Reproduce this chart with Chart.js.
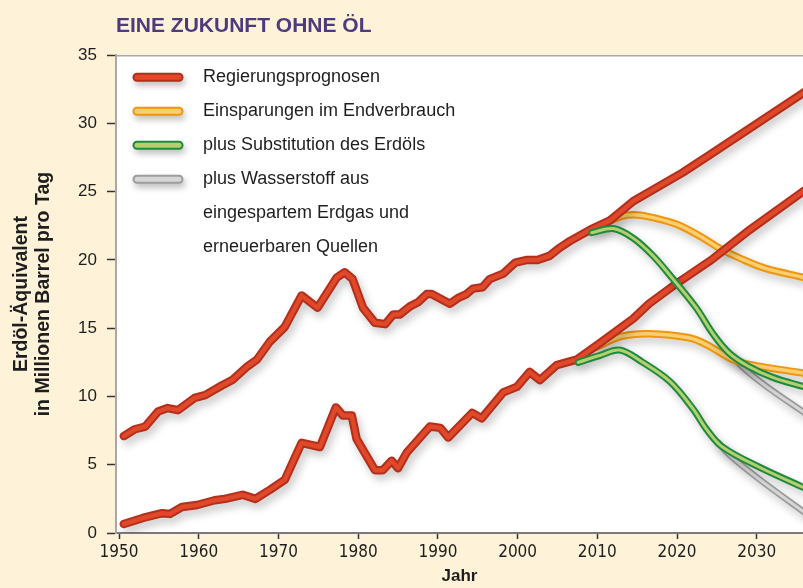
<!DOCTYPE html>
<html><head><meta charset="utf-8">
<script src="https://cdn.jsdelivr.net/npm/chart.js@4.4.1/dist/chart.umd.min.js"></script>
<style>html,body{margin:0;padding:0;background:#FEF3D9;}canvas{display:block;}</style>
</head><body>
<canvas id="c" width="803" height="588"></canvas>
<script>
const chartTitle = 'EINE ZUKUNFT OHNE ÖL';
const yAxisTitle = ['Erdöl-Äquivalent', 'in Millionen Barrel pro Tag'];
const xAxisTitle = 'Jahr';
const xTickYears = [1950, 1960, 1970, 1980, 1990, 2000, 2010, 2020, 2030];
const legendLabels = ['Regierungsprognosen', 'Einsparungen im Endverbrauch', 'plus Substitution des Erdöls',
  ['plus Wasserstoff aus', 'eingespartem Erdgas und', 'erneuerbaren Quellen']];

// Regierungsprognosen – obere Kurve
const regUpperYears = [1950.6,1952.0,1953.3,1954.9,1956.1,1957.4,1959.5,1960.8,1962.9,1964.2,1966.1,1967.3,1968.9,1970.8,1972.9,1974.9,1977.3,1978.3,1979.3,1980.6,1982.1,1983.4,1984.4,1985.2,1986.5,1987.5,1988.6,1989.2,1991.5,1992.5,1993.6,1994.4,1995.6,1996.5,1998.2,1999.7,2001.2,2002.5,2004.0,2005.3,2006.6,2009.4,2011.6,2014.5,2020.7,2024.1,2036];
const regUpperValues = [7.1,7.6,7.8,8.9,9.15,9.0,9.9,10.1,10.8,11.2,12.2,12.7,14.0,15.1,17.4,16.5,18.7,19.1,18.6,16.5,15.4,15.3,16.0,16.0,16.6,16.9,17.5,17.5,16.8,17.2,17.5,17.9,18.0,18.6,19.0,19.8,20.0,20.0,20.3,20.9,21.4,22.3,22.9,24.3,26.4,27.7,32.3];
// Regierungsprognosen – untere Kurve
const regLowerYears = [1950.6,1953.0,1955.4,1956.4,1957.9,1959.8,1962.0,1963.3,1965.5,1967.1,1968.9,1970.8,1972.9,1975.2,1977.2,1978.1,1979.2,1979.8,1981.1,1982.1,1983.1,1984.2,1985.0,1986.1,1989.0,1990.3,1991.3,1994.3,1995.5,1998.2,1999.9,2001.5,2002.8,2004.9,2007.4,2010.3,2014.5,2016.5,2020.0,2024.3,2029.1,2036];
const regLowerValues = [0.66,1.1,1.45,1.4,1.9,2.05,2.4,2.5,2.8,2.5,3.15,3.9,6.6,6.3,9.2,8.6,8.6,6.9,5.6,4.6,4.6,5.3,4.75,5.9,7.8,7.7,7.0,8.8,8.4,10.3,10.7,11.8,11.2,12.3,12.7,13.9,15.7,16.8,18.3,20.0,22.2,25.1];
// Einsparungen im Endverbrauch
const saveUpperYears = [2010.3,2013,2015,2017,2020,2023,2025.5,2028,2031,2036];
const saveUpperValues = [22.5,23.2,23.3,23.1,22.6,21.7,20.8,20.1,19.4,18.7];
const saveLowerYears = [2009.8,2013,2016.5,2021.5,2023.7,2027,2029.5,2036];
const saveLowerValues = [13.6,14.4,14.6,14.3,13.8,12.7,12.3,11.7];
// plus Substitution des Erdöls
const subUpperYears = [2009.3,2012,2014.5,2017,2019.5,2022.4,2024.5,2026.5,2029,2032,2036];
const subUpperValues = [22.0,22.3,21.6,20.3,18.6,16.5,14.6,13.2,12.2,11.4,10.7];
const subLowerYears = [2007.6,2010.3,2012.8,2015.7,2019.1,2022,2023.7,2025.7,2030.4,2036];
const subLowerValues = [12.5,13.0,13.4,12.5,11.1,9.1,7.6,6.3,4.8,3.3];
// plus Wasserstoff
const h2UpperYears = [2026,2028.5,2031.3,2036];
const h2UpperValues = [13.5,12.0,10.7,8.8];
const h2LowerYears = [2025.2,2026.6,2030.4,2036];
const h2LowerValues = [6.6,5.7,3.9,1.5];

const styles = [
  {outer:'#B32E1B', inner:'#E0482A', wOut:8.5, wIn:4.5},
  {outer:'#EE9610', inner:'#FBCE70', wOut:7.5, wIn:3.5},
  {outer:'#1E8A40', inner:'#B4D06E', wOut:7, wIn:3},
  {outer:'#9C9C9C', inner:'#D6D6D6', wOut:6.5, wIn:3}
];

function pts(xs, ys){ return xs.map((x,i)=>({x:x, y:ys[i]})); }

// bottom-to-top drawing list: [series index, years, values, smooth]
const lines = [
  [3, h2UpperYears, h2UpperValues, true],
  [3, h2LowerYears, h2LowerValues, true],
  [1, saveUpperYears, saveUpperValues, true],
  [1, saveLowerYears, saveLowerValues, true],
  [0, regUpperYears, regUpperValues, false],
  [0, regLowerYears, regLowerValues, false],
  [2, subUpperYears, subUpperValues, true],
  [2, subLowerYears, subLowerValues, true]
];
const datasets = [];
lines.forEach(([s, xs, ys, smooth]) => {
  const st = styles[s];
  ['outer','inner'].forEach(kind => {
    datasets.push({
      data: pts(xs, ys), isOuter: kind==='outer',
      borderColor: st[kind], borderWidth: kind==='outer'?st.wOut:st.wIn,
      pointRadius: 0, fill: false, borderCapStyle:'round', borderJoinStyle:'round',
      tension: smooth ? 0.35 : 0
    });
  });
});
const N = datasets.length;
datasets.forEach((d,i)=>{ d.order = N - i; });

const areaPlugin = {
  id:'area',
  beforeDraw(chart){
    const {ctx, chartArea:a} = chart;
    ctx.save();
    ctx.fillStyle = '#FFFFFF';
    ctx.fillRect(a.left, a.top, a.right-a.left, a.bottom-a.top);
    ctx.strokeStyle = '#A8A8A8'; ctx.lineWidth = 1.5;
    ctx.beginPath(); ctx.moveTo(a.left, a.top+0.5); ctx.lineTo(a.right, a.top+0.5); ctx.stroke();
    ctx.restore();
  }
};
const shadowPlugin = {
  id:'lineShadow',
  beforeDatasetDraw(chart, args){
    const ctx = chart.ctx; ctx.save();
    if (chart.data.datasets[args.index].isOuter){
      ctx.shadowColor='rgba(0,0,0,0.22)'; ctx.shadowBlur=8; ctx.shadowOffsetX=3; ctx.shadowOffsetY=5;
    }
  },
  afterDatasetDraw(chart){ chart.ctx.restore(); }
};
const legendPlugin = {
  id:'boxLegend',
  afterDatasetsDraw(chart){
    const {ctx, chartArea:a} = chart;
    ctx.save();
    ctx.font = '18px "Liberation Sans", Arial, sans-serif';
    ctx.textBaseline = 'middle'; ctx.fillStyle = '#1E1E1E';
    let row = 0;
    legendLabels.forEach((lab, i) => {
      const st = styles[i];
      const y = a.top + 22 + row*34;
      const x0 = a.left + 21, x1 = a.left + 63;
      ctx.save();
      ctx.lineCap = 'round';
      ctx.shadowColor='rgba(0,0,0,0.25)'; ctx.shadowBlur=6; ctx.shadowOffsetX=2; ctx.shadowOffsetY=4;
      ctx.strokeStyle = st.outer; ctx.lineWidth = 9;
      ctx.beginPath(); ctx.moveTo(x0,y); ctx.lineTo(x1,y); ctx.stroke();
      ctx.shadowColor='transparent';
      ctx.strokeStyle = st.inner; ctx.lineWidth = 5;
      ctx.beginPath(); ctx.moveTo(x0,y); ctx.lineTo(x1,y); ctx.stroke();
      ctx.restore();
      const ls = Array.isArray(lab) ? lab : [lab];
      ls.forEach((t,j)=>{ ctx.fillText(t, a.left + 87, y + j*34); });
      row += ls.length;
    });
    ctx.restore();
  }
};

new Chart(document.getElementById('c'), {
  type:'line',
  data:{datasets},
  plugins:[areaPlugin, shadowPlugin, legendPlugin],
  options:{
    responsive:false, animation:false, devicePixelRatio:1,
    layout:{padding:{left:0,right:0,top:0,bottom:0}},
    plugins:{
      legend:{display:false}, tooltip:{enabled:false},
      title:{display:true, text:chartTitle, align:'start', fullSize:false, color:'#4E3B7D',
        font:{family:'"Liberation Sans", Arial, sans-serif', size:21, weight:'bold'},
        padding:{top:14, bottom:16}}
    },
    scales:{
      x:{type:'linear', min:1949.62, max:2035.8,
        afterBuildTicks(s){ s.ticks = xTickYears.map(v=>({value:v})); },
        afterFit(s){ s.height = 55; },
        grid:{drawOnChartArea:false, drawTicks:true, tickLength:6, tickColor:'#333', tickWidth:1.5},
        border:{display:true, color:'#7A7A7A', width:2},
        ticks:{color:'#1E1E1E', padding:3, maxRotation:0, autoSkip:false,
          font:{family:'"Liberation Sans Narrow", "DejaVu Sans Condensed", sans-serif', size:17},
          callback:(v)=>String(v)},
        title:{display:true, text:xAxisTitle, color:'#1E1E1E', padding:{top:0,bottom:1},
          font:{family:'"Liberation Sans", Arial, sans-serif', size:17, weight:'bold'}}
      },
      y:{min:0, max:35,
        afterFit(s){ s.width = 116; },
        grid:{drawOnChartArea:false, drawTicks:true, tickLength:9, tickColor:'#333', tickWidth:1.5},
        border:{display:true, color:'#A8A8A8', width:2},
        ticks:{stepSize:5, color:'#1E1E1E', padding:10,
          font:{family:'"Liberation Sans", Arial, sans-serif', size:17}},
        title:{display:true, text:yAxisTitle, color:'#1E1E1E', padding:{top:11,bottom:0},
          font:{family:'"Liberation Sans", Arial, sans-serif', size:19.5, weight:'bold', lineHeight:1.13}}
      }
    }
  }
});
</script>
</body></html>
